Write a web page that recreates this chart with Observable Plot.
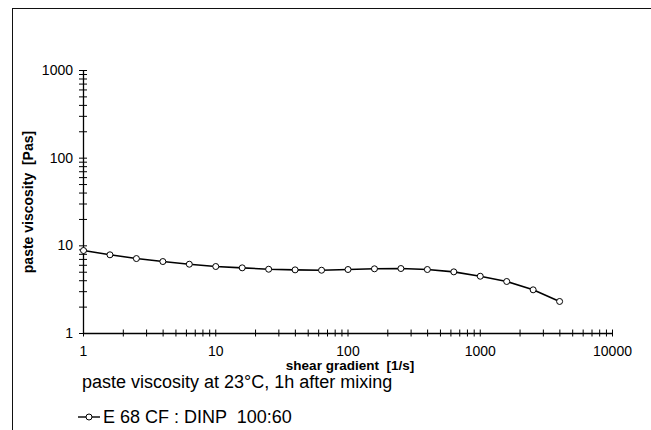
<!DOCTYPE html>
<html>
<head>
<meta charset="utf-8">
<script src="https://cdn.jsdelivr.net/npm/d3@7"></script>
<script src="https://cdn.jsdelivr.net/npm/@observablehq/plot@0.6"></script>
<style>
  html, body { margin: 0; padding: 0; background: white; }
  #wrap { position: relative; width: 651px; height: 430px; overflow: hidden; font-family: "Liberation Sans", Arial, sans-serif; }
  #frame { position: absolute; left: 12px; top: 8px; width: 700px; height: 500px; border-top: 1.5px solid #111; border-left: 1.5px solid #111; }
  #chart { position: absolute; left: 0; top: 0; }
  .cap { position: absolute; white-space: pre; font-size: 18px; color: #000; }
  #caption { left: 82px; top: 379px; line-height: 6px; }
  #legend { left: 77px; top: 410px; line-height: 14px; display: flex; align-items: center; }
  #legend svg { margin-right: 2px; }
</style>
</head>
<body>
<div id="wrap">
  <div id="frame"></div>
  <div id="chart"></div>
  <div id="caption" class="cap">paste viscosity at 23°C, 1h after mixing</div>
  <div id="legend" class="cap"><svg width="24" height="12"><line x1="1" y1="6" x2="23" y2="6" stroke="#000" stroke-width="1.4"/><circle cx="12" cy="6" r="3" fill="#fff" stroke="#000" stroke-width="1"/></svg><span>E 68 CF : DINP  100:60</span></div>
</div>
<script>
// data
const shear = [1, 1.585, 2.512, 3.981, 6.31, 10, 15.85, 25.12, 39.81, 63.1, 100, 158.5, 251.2, 398.1, 631, 1000, 1585, 2512, 3981];
const viscosity = [8.84, 7.9, 7.16, 6.62, 6.17, 5.81, 5.61, 5.41, 5.32, 5.27, 5.37, 5.47, 5.51, 5.37, 5.05, 4.5, 3.92, 3.15, 2.32];
const xTickLabels = [1, 10, 100, 1000, 10000];
const yTickLabels = [1, 10, 100, 1000];
const xTitle = "shear gradient  [1/s]";
const yTitle = "paste viscosity  [Pas]";

const rows = shear.map((s, i) => ({shear: s, viscosity: viscosity[i]}));
const xTicks = [];
for (const dec of [1, 10, 100, 1000]) for (let k = 1; k < 10; k++) xTicks.push(dec * k);
xTicks.push(10000);
const yTicks = [];
for (const dec of [1, 10, 100]) for (let k = 1; k < 10; k++) yTicks.push(dec * k);
yTicks.push(1000);

const W = 651, H = 376;
const mL = 83, mR = 39, mT = 70, mB = 43;
const innerW = W - mL - mR, innerH = H - mT - mB;

const chart = Plot.plot({
  width: W,
  height: H,
  marginLeft: mL,
  marginRight: mR,
  marginTop: mT,
  marginBottom: mB,
  style: {fontFamily: "'Liberation Sans', Arial, sans-serif", fontSize: "14px", color: "#000", background: "transparent"},
  x: {type: "log", domain: [1, 10000]},
  y: {type: "log", domain: [1, 1000]},
  marks: [
    Plot.tickX(xTicks, {x: d => d, stroke: "#000", strokeWidth: 1, insetTop: innerH - 7, dy: 3.5}),
    Plot.tickY(yTicks, {y: d => d, stroke: "#000", strokeWidth: 1, insetRight: innerW - 8, dx: -4}),
    Plot.ruleX([1], {stroke: "#000", strokeWidth: 1.3}),
    Plot.ruleY([1], {stroke: "#000", strokeWidth: 1.3}),
    Plot.axisX(xTickLabels, {tickSize: 0, tickPadding: 13, fontSize: 14, label: null, tickFormat: d => String(d)}),
    Plot.axisY(yTickLabels, {tickSize: 0, tickPadding: 10.5, fontSize: 14, label: null, tickFormat: d => String(d)}),
    Plot.text([xTitle], {text: d => d, frameAnchor: "bottom", textAnchor: "middle", dy: 36.5, dx: 2, fontWeight: "bold", fontSize: 13.5}),
    Plot.text([yTitle], {text: d => d, frameAnchor: "left", textAnchor: "middle", dx: -55, rotate: -90, fontWeight: "bold", fontSize: 14}),
    Plot.line(rows, {x: "shear", y: "viscosity", stroke: "#000", strokeWidth: 1.6}),
    Plot.dot(rows, {x: "shear", y: "viscosity", r: 3, fill: "#fff", stroke: "#000", strokeWidth: 1})
  ]
});
document.getElementById("chart").appendChild(chart);
</script>
</body>
</html>
